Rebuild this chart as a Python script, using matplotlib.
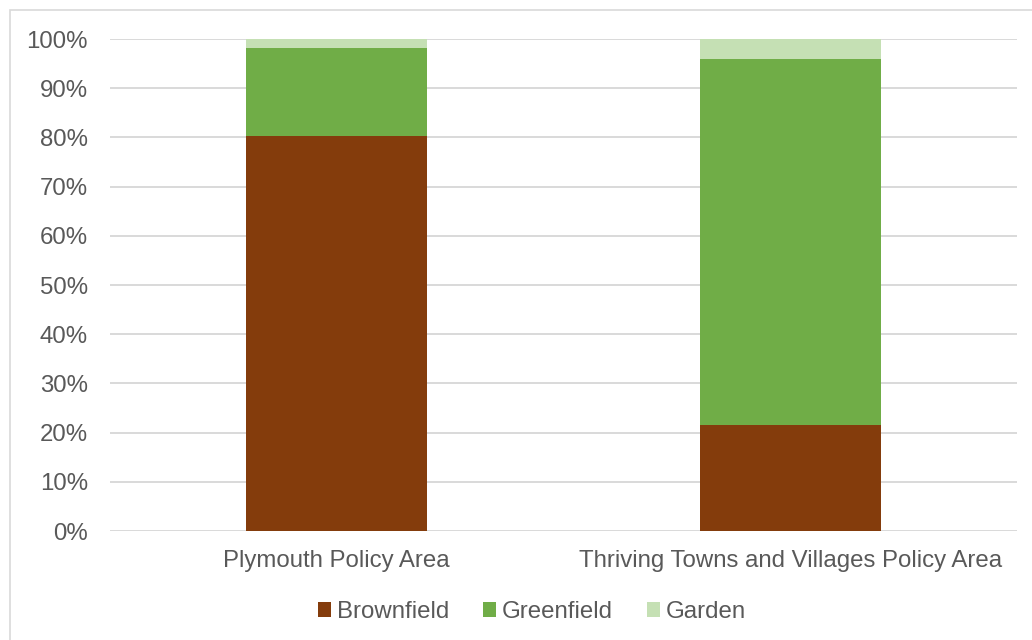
import matplotlib.pyplot as plt
import numpy as np
from matplotlib.patches import Rectangle
from matplotlib.ticker import PercentFormatter

categories = ['Plymouth Policy Area', 'Thriving Towns and Villages Policy Area']
brownfield = [80.3, 21.5]
greenfield = [17.9, 74.5]
garden = [1.8, 4.0]

colors = ['#843c0c', '#70ad47', '#c5e0b4']
text_col = '#595959'

plt.rcParams['font.family'] = ['Liberation Sans', 'DejaVu Sans']

fig = plt.figure(figsize=(10.32, 6.4), dpi=100)
ax = fig.add_axes([110 / 1032, 109 / 640, 907 / 1032, 492 / 640])

x = np.arange(len(categories))
w = 0.4
b1 = np.array(brownfield)
b2 = b1 + np.array(greenfield)
ax.bar(x, brownfield, w, color=colors[0], label='Brownfield', zorder=3)
ax.bar(x, greenfield, w, bottom=b1, color=colors[1], label='Greenfield', zorder=3)
ax.bar(x, garden, w, bottom=b2, color=colors[2], label='Garden', zorder=3)

ax.set_xlim(-0.5, 1.5)
ax.set_ylim(0, 100)
ax.set_yticks(np.arange(0, 101, 10))
ax.yaxis.set_major_formatter(PercentFormatter(decimals=0))
ax.set_xticks(x)
ax.set_xticklabels(categories)
ax.tick_params(axis='both', length=0, labelsize=17.3, colors=text_col)
ax.tick_params(axis='y', pad=16)
ax.tick_params(axis='x', pad=14)
ax.grid(axis='y', color='#d9d9d9', linewidth=1.4, zorder=0)
for s in ax.spines.values():
    s.set_visible(False)

ax.legend(loc='center', bbox_to_anchor=(532 / 1032, 28 / 640),
          bbox_transform=fig.transFigure, ncol=3, frameon=False,
          fontsize=17.3, labelcolor=text_col, handlelength=0.55,
          handleheight=0.55, handletextpad=0.25, columnspacing=1.4)

# chart area outline
fig.patches.append(Rectangle((10 / 1032, -0.1), 1.2, (630 / 640) + 0.1,
                             transform=fig.transFigure, fill=False,
                             edgecolor='#d9d9d9', linewidth=1.2))

fig.savefig('out.png', dpi=100)
